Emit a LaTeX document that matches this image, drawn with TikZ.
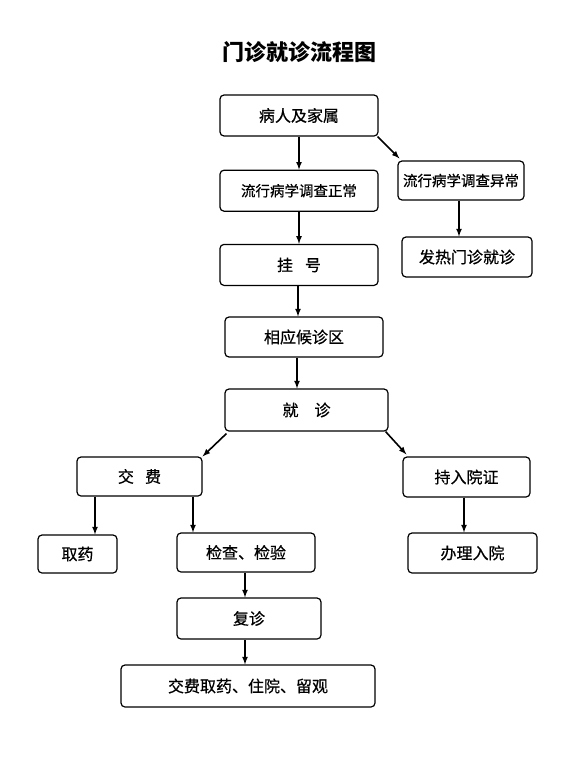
\documentclass[tikz,border=0pt]{standalone}
\usepackage{fontspec}
\newfontfamily\cjk{Noto Sans CJK SC}
\newfontfamily\cjkmid[FakeBold=0.6]{Noto Sans CJK SC}
\usepackage{tikz}
\usetikzlibrary{positioning}

\begin{document}
\begin{tikzpicture}[x=1pt, y=-1pt, >=latex,
        proc/.style={rectangle, rounded corners=4pt, draw=black, line width=1.2pt, fill=white, inner sep=2pt, minimum width=158pt, minimum height=41pt, font=\cjkmid\fontsize{16}{18}\selectfont},
        small/.style={proc, font=\cjkmid\fontsize{14.5}{17}\selectfont},
        flow/.style={->, line width=1.6pt}
      ]
        \useasboundingbox (0,0) rectangle (560,768);

        \node[font=\cjk\bfseries\fontsize{22}{24}\selectfont]  (title)  at (299,52)    {门诊就诊流程图};

        \node[proc]   (sick)     at (299,115.5)                                              {病人及家属};
        \node[small]  (normal)   [below=33pt of sick]                                        {流行病学调查正常};
        \node[proc]   (register) [below=32pt of normal]                                      {挂\hspace{0.75em}号};
        \node[small]  (abnormal) at (461,180.5)  [minimum width=126pt, minimum height=39pt]  {流行病学调查异常};
        \node[proc]   (fever)    at (467,257)    [minimum width=130pt, minimum height=40pt]  {发热门诊就诊};
        \node[proc]   (waiting)  at (304,337)    [minimum height=40pt]                       {相应候诊区};
        \node[proc]   (visit)    at (306.5,410)  [minimum width=163pt, minimum height=42pt]  {就\hspace{1em}诊};
        \node[proc]   (pay)      at (139.5,476.5) [minimum width=125pt, minimum height=39pt] {交\hspace{0.7em}费};
        \node[proc]   (permit)   at (466.5,477)  [minimum width=127pt, minimum height=40pt]  {持入院证};
        \node[proc]   (medicine) at (77.5,554)   [minimum width=79pt, minimum height=38pt]   {取药};
        \node[proc]   (exam)     at (246,552.5)  [minimum width=138pt, minimum height=39pt]  {检查、检验};
        \node[proc]   (admit)    at (472.5,553)  [minimum width=129pt, minimum height=40pt]  {办理入院};
        \node[proc]   (revisit)  at (249,618.5)  [minimum width=144pt]                       {复诊};
        \node[proc]   (final)    at (248,686)    [minimum width=254pt, minimum height=42pt]  {交费取药、住院、留观};

        \draw[flow]  (sick.south) -- (normal.north);
        \draw[flow]  ([xshift=-1pt]sick.south east) -- ([xshift=2pt, yshift=2pt]abnormal.north west);
        \draw[flow]  (normal.south) -- (register.north);
        \draw[flow]  ([xshift=-2pt]abnormal.south) -- ([xshift=-2pt]abnormal.south |- fever.north);
        \draw[flow]  ([xshift=-1pt]register.south) -- ([xshift=-1pt]register.south |- waiting.north);
        \draw[flow]  ([xshift=-7pt]waiting.south) -- ([xshift=-7pt]waiting.south |- visit.north);
        \draw[flow]  ([xshift=2pt, yshift=-2pt]visit.south west) -- (pay.north east);
        \draw[flow]  ([xshift=-3pt]visit.south east) -- ([xshift=4pt, yshift=2pt]permit.north west);
        \draw[flow]  ([xshift=-44.5pt]pay.south) -- ([xshift=-44.5pt]pay.south |- medicine.north);
        \draw[flow]  ([xshift=53.5pt]pay.south) -- ([xshift=53.5pt]pay.south |- exam.north);
        \draw[flow]  ([xshift=-2.5pt]permit.south) -- ([xshift=-2.5pt]permit.south |- admit.north);
        \draw[flow]  ([xshift=-1pt]exam.south) -- ([xshift=-1pt]exam.south |- revisit.north);
        \draw[flow]  ([xshift=-4pt]revisit.south) -- ([xshift=-4pt]revisit.south |- final.north);
      \end{tikzpicture}
\end{document}
